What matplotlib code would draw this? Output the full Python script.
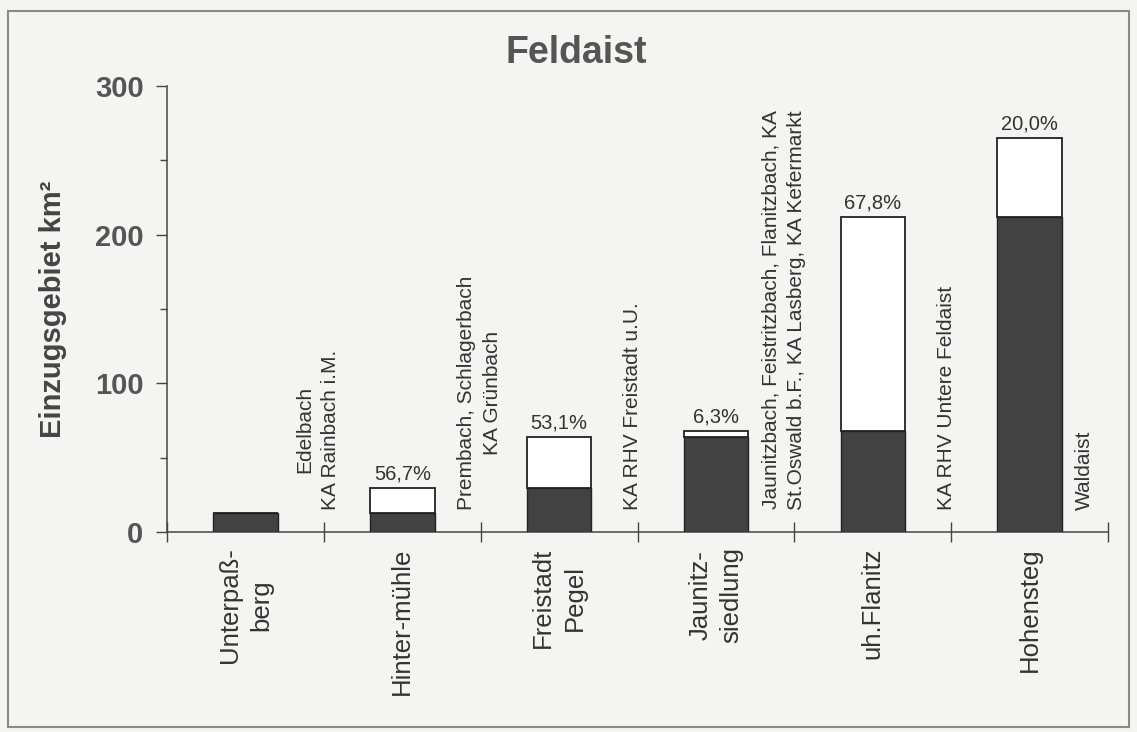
import matplotlib
matplotlib.use("Agg")
import matplotlib.pyplot as plt
from matplotlib.patches import Rectangle
from matplotlib.ticker import MultipleLocator

plt.rcParams['font.family'] = ['Liberation Sans', 'DejaVu Sans']

# gauges along the Feldaist (cumulative catchment area, km²)
stations = ['Unterpaß-\nberg', 'Hinter-mühle', 'Freistadt\nPegel', 'Jaunitz-\nsiedlung', 'uh.Flanitz', 'Hohensteg']
area_upstream = [13, 13, 30, 64, 68.3, 212]     # dark part = area of previous gauge
area_total = [13, 30, 64, 68.3, 212, 265]
share_labels = ['', '56,7%', '53,1%', '6,3%', '67,8%', '20,0%']

# tributaries / treatment plants between the gauges
between_labels = [
    'Edelbach\nKA Rainbach i.M.',
    'Prembach, Schlagerbach\nKA Grünbach',
    'KA RHV Freistadt u.U.',
    'Jaunitzbach, Feistritzbach, Flanitzbach, KA\nSt.Oswald b.F., KA Lasberg, KA Kefermarkt',
    'KA RHV Untere Feldaist',
    'Waldaist',
]
between_pos = [0.46, 1.49, 2.47, 3.43, 4.47, 5.35]

paper = '#f4f4f2'
dark = '#424242'
txt = '#333333'

fig = plt.figure(figsize=(11.37, 7.32), dpi=100, facecolor=paper)
ax = fig.add_axes([0.147, 0.273, 0.8275, 0.6093])
ax.set_facecolor('none')

x = list(range(len(stations)))
added = [t - u for t, u in zip(area_total, area_upstream)]
bw = 0.41
ax.bar(x, area_upstream, width=bw, color=dark, edgecolor='#222222', linewidth=1.0, zorder=3)
ax.bar(x, added, bottom=area_upstream, width=bw, color='white', edgecolor='#222222', linewidth=1.3, zorder=3)

for xi, tot, lab in zip(x, area_total, share_labels):
    if lab:
        ax.text(xi, tot + 3, lab, ha='center', va='bottom', fontsize=14.5, color=txt)

for xp, lab in zip(between_pos, between_labels):
    ax.text(xp, 15, lab, rotation=90, ha='center', va='bottom', fontsize=15,
            color=txt, linespacing=1.45)

ax.set_xlim(-0.5, len(stations) - 0.5)
ax.set_ylim(0, 300)
ax.set_xticks([i - 0.5 for i in range(len(stations) + 1)])
ax.set_xticklabels([])
ax.tick_params(axis='x', which='major', direction='inout', length=14, width=1, color='#444444')
ax.set_xticks(x, minor=True)
ax.set_xticklabels(stations, minor=True, rotation=90, fontsize=18.5, color=txt,
                   va='top', ha='center', linespacing=1.4)
ax.tick_params(axis='x', which='minor', length=0, pad=11)

ax.yaxis.set_major_locator(MultipleLocator(100))
ax.yaxis.set_minor_locator(MultipleLocator(50))
ax.tick_params(axis='y', which='major', direction='out', length=8, width=1, color='#444444',
               labelsize=21, labelcolor='#555555', pad=9)
ax.tick_params(axis='y', which='minor', direction='out', length=5, width=1, color='#444444')
for lab in ax.get_yticklabels():
    lab.set_fontweight('bold')

for s in ['top', 'right']:
    ax.spines[s].set_visible(False)
for s in ['left', 'bottom']:
    ax.spines[s].set_color('#444444')
    ax.spines[s].set_linewidth(1.1)

ax.set_ylabel('Einzugsgebiet km²', fontsize=21, fontweight='bold', color='#444444', labelpad=20)
fig.text(0.507, 0.914, 'Feldaist', ha='center', va='baseline', fontsize=27, fontweight='bold', color='#555555')

fig.patches.append(Rectangle((0.007, 0.007), 0.986, 0.978, transform=fig.transFigure,
                             fill=False, edgecolor='#8a8a8a', linewidth=1.5))

fig.savefig('out.png', dpi=100, facecolor=paper)
